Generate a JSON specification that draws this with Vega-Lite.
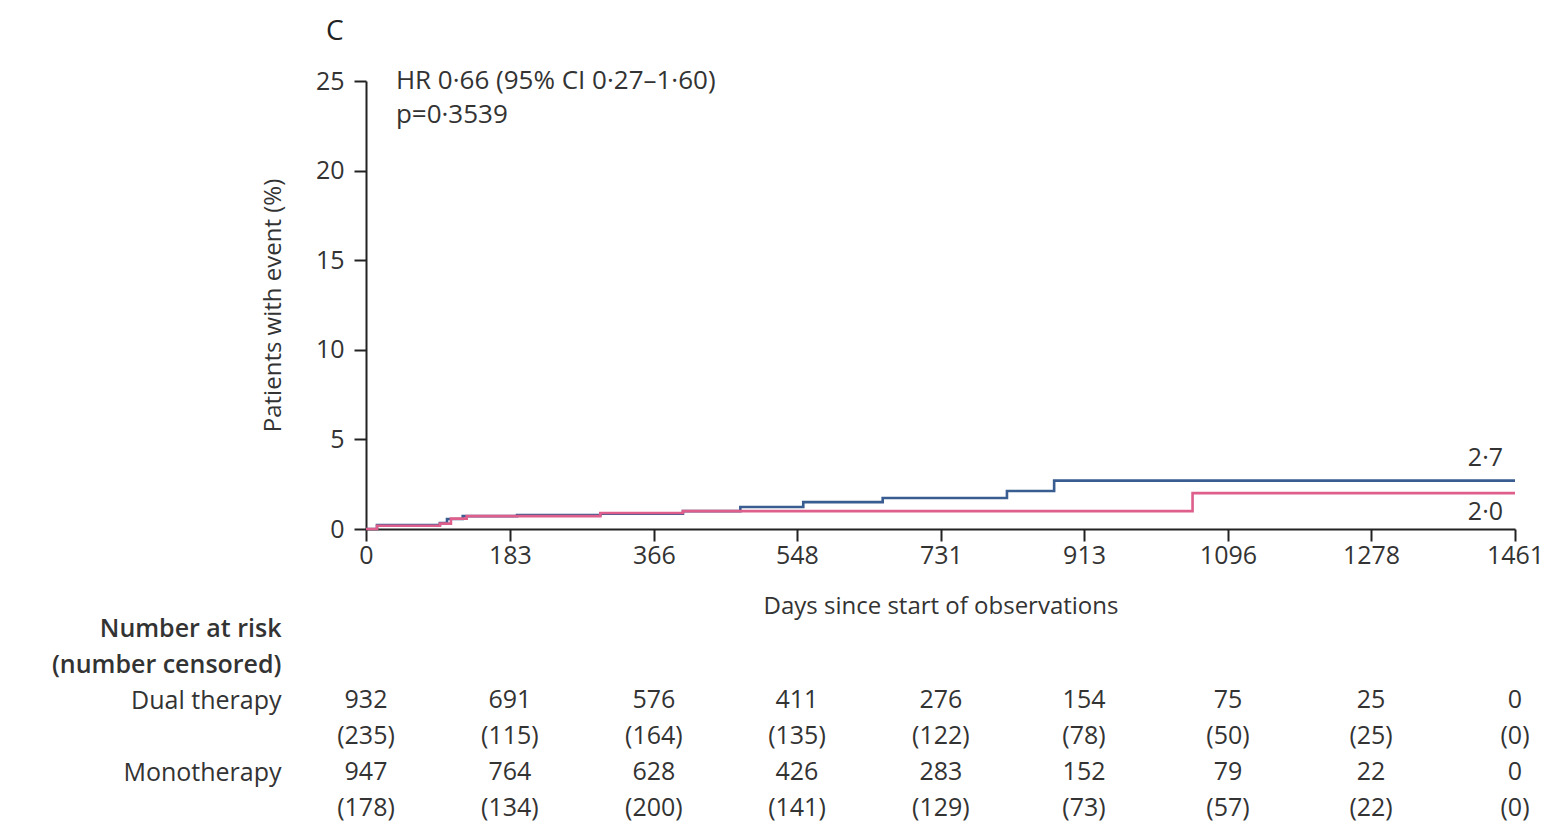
{
  "$schema": "https://vega.github.io/schema/vega-lite/v6.json",
  "width": 1149,
  "height": 448,
  "autosize": {"type": "none"},
  "padding": {"left": 366, "top": 81, "right": 38, "bottom": 293},
  "background": "white",
  "config": {
    "view": {"stroke": null},
    "font": "Open Sans",
    "text": {"font": "Open Sans", "color": "#333333"}
  },
  "title": {
    "text": "C",
    "anchor": "start",
    "frame": "group",
    "dx": -40,
    "offset": 22,
    "fontSize": 28,
    "fontWeight": "normal",
    "color": "#222222",
    "font": "Open Sans"
  },
  "layer": [
    {
      "layer": [
        {
          "data": {
            "values": [
              {"series": "Monotherapy", "day": 0, "pct": 0},
              {"series": "Monotherapy", "day": 14, "pct": 0.22},
              {"series": "Monotherapy", "day": 94, "pct": 0.33},
              {"series": "Monotherapy", "day": 103, "pct": 0.56},
              {"series": "Monotherapy", "day": 123, "pct": 0.72},
              {"series": "Monotherapy", "day": 192, "pct": 0.78},
              {"series": "Monotherapy", "day": 298, "pct": 0.86},
              {"series": "Monotherapy", "day": 403, "pct": 1.0},
              {"series": "Monotherapy", "day": 476, "pct": 1.23},
              {"series": "Monotherapy", "day": 556, "pct": 1.5},
              {"series": "Monotherapy", "day": 657, "pct": 1.73},
              {"series": "Monotherapy", "day": 815, "pct": 2.12},
              {"series": "Monotherapy", "day": 875, "pct": 2.7},
              {"series": "Monotherapy", "day": 1461, "pct": 2.7},
              {"series": "Dual therapy", "day": 0, "pct": 0},
              {"series": "Dual therapy", "day": 14, "pct": 0.18},
              {"series": "Dual therapy", "day": 94, "pct": 0.3},
              {"series": "Dual therapy", "day": 108, "pct": 0.58},
              {"series": "Dual therapy", "day": 128, "pct": 0.72},
              {"series": "Dual therapy", "day": 298, "pct": 0.89},
              {"series": "Dual therapy", "day": 403, "pct": 1.0},
              {"series": "Dual therapy", "day": 1051, "pct": 2.0},
              {"series": "Dual therapy", "day": 1461, "pct": 2.0}
            ]
          },
          "mark": {"type": "line", "interpolate": "step-after", "strokeWidth": 2.6},
          "encoding": {
            "x": {
              "field": "day",
              "type": "quantitative",
              "scale": {"domain": [0, 1461], "nice": false, "zero": false},
              "axis": {
                "values": [0, 183, 366, 548, 731, 913, 1096, 1278, 1461],
                "format": "d",
                "title": "Days since start of observations",
                "grid": false,
                "domainColor": "#222222",
                "domainWidth": 2,
                "tickColor": "#222222",
                "tickWidth": 2,
                "tickSize": 12,
                "labelFontSize": 25,
                "labelPadding": 2,
                "labelColor": "#333333",
                "labelFont": "Open Sans",
                "labelFlush": false,
                "labelOverlap": false,
                "titleFontSize": 24,
                "titleFontWeight": "normal",
                "titleColor": "#333333",
                "titleFont": "Open Sans",
                "titlePadding": 26
              }
            },
            "y": {
              "field": "pct",
              "type": "quantitative",
              "scale": {"domain": [0, 25], "nice": false},
              "axis": {
                "orient": "left",
                "values": [0, 5, 10, 15, 20, 25],
                "title": "Patients with event (%)",
                "grid": false,
                "domainColor": "#222222",
                "domainWidth": 2,
                "tickColor": "#222222",
                "tickWidth": 2,
                "tickSize": 12,
                "labelFontSize": 25,
                "labelPadding": 10,
                "labelColor": "#333333",
                "labelFont": "Open Sans",
                "labelFlush": false,
                "titleFontSize": 24,
                "titleFontWeight": "normal",
                "titleColor": "#333333",
                "titleFont": "Open Sans",
                "titlePadding": 30
              }
            },
            "color": {
              "field": "series",
              "type": "nominal",
              "scale": {"domain": ["Monotherapy", "Dual therapy"], "range": ["#3a5d91", "#de5f8b"]},
              "legend": null
            }
          }
        },
        {
          "data": {"values": [{"label": "HR 0·66 (95% CI 0·27–1·60)"}]},
          "mark": {"type": "text", "align": "left", "baseline": "middle", "fontSize": 26, "color": "#333333"},
          "encoding": {
            "x": {"datum": 38},
            "y": {"datum": 25},
            "text": {"field": "label"}
          }
        },
        {
          "data": {"values": [{"label": "p=0·3539"}]},
          "mark": {"type": "text", "align": "left", "baseline": "middle", "fontSize": 26, "color": "#333333"},
          "encoding": {
            "x": {"datum": 38},
            "y": {"datum": 23.1},
            "text": {"field": "label"}
          }
        },
        {
          "data": {"values": [{"label": "2·7"}]},
          "mark": {"type": "text", "align": "right", "baseline": "middle", "fontSize": 25, "dx": -12, "dy": -23, "color": "#333333"},
          "encoding": {
            "x": {"datum": 1461},
            "y": {"datum": 2.7},
            "text": {"field": "label"}
          }
        },
        {
          "data": {"values": [{"label": "2·0"}]},
          "mark": {"type": "text", "align": "right", "baseline": "middle", "fontSize": 25, "dx": -12, "dy": 19, "color": "#333333"},
          "encoding": {
            "x": {"datum": 1461},
            "y": {"datum": 2.0},
            "text": {"field": "label"}
          }
        }
      ]
    },
    {
      "data": {
        "values": [
          {"group": "Dual therapy", "day": 0, "atRisk": 932, "censored": 235},
          {"group": "Dual therapy", "day": 183, "atRisk": 691, "censored": 115},
          {"group": "Dual therapy", "day": 366, "atRisk": 576, "censored": 164},
          {"group": "Dual therapy", "day": 548, "atRisk": 411, "censored": 135},
          {"group": "Dual therapy", "day": 731, "atRisk": 276, "censored": 122},
          {"group": "Dual therapy", "day": 913, "atRisk": 154, "censored": 78},
          {"group": "Dual therapy", "day": 1096, "atRisk": 75, "censored": 50},
          {"group": "Dual therapy", "day": 1278, "atRisk": 25, "censored": 25},
          {"group": "Dual therapy", "day": 1461, "atRisk": 0, "censored": 0},
          {"group": "Monotherapy", "day": 0, "atRisk": 947, "censored": 178},
          {"group": "Monotherapy", "day": 183, "atRisk": 764, "censored": 134},
          {"group": "Monotherapy", "day": 366, "atRisk": 628, "censored": 200},
          {"group": "Monotherapy", "day": 548, "atRisk": 426, "censored": 141},
          {"group": "Monotherapy", "day": 731, "atRisk": 283, "censored": 129},
          {"group": "Monotherapy", "day": 913, "atRisk": 152, "censored": 73},
          {"group": "Monotherapy", "day": 1096, "atRisk": 79, "censored": 57},
          {"group": "Monotherapy", "day": 1278, "atRisk": 22, "censored": 22},
          {"group": "Monotherapy", "day": 1461, "atRisk": 0, "censored": 0}
        ]
      },
      "layer": [
        {
          "mark": {"type": "text", "align": "center", "baseline": "middle", "fontSize": 25, "color": "#333333"},
          "encoding": {
            "x": {"field": "day", "type": "quantitative"},
            "y": {
              "field": "group",
              "type": "nominal",
              "scale": {
                "type": "point",
                "domain": ["h1", "h2", "Dual therapy", "dc", "Monotherapy", "mc"],
                "range": [547, 727],
                "padding": 0
              },
              "axis": {
                "orient": "left",
                "title": null,
                "domain": false,
                "ticks": false,
                "grid": false,
                "labelPadding": 85,
                "labelFontSize": 25,
                "labelLimit": 400,
                "labelColor": "#333333",
                "labelFont": "Open Sans",
                "labelOverlap": false,
                "labelExpr": "datum.value == 'h1' ? 'Number at risk' : datum.value == 'h2' ? '(number censored)' : (datum.value == 'dc' || datum.value == 'mc') ? '' : datum.value",
                "labelFontWeight": {"condition": {"test": "datum.value == 'h1' || datum.value == 'h2'", "value": 600}, "value": "normal"}
              }
            },
            "text": {"field": "atRisk", "type": "quantitative"}
          }
        },
        {
          "mark": {"type": "text", "align": "center", "baseline": "middle", "fontSize": 25, "dy": 36, "color": "#333333", "text": {"expr": "'(' + datum.censored + ')'"}},
          "encoding": {
            "x": {"field": "day", "type": "quantitative"},
            "y": {"field": "group", "type": "nominal"}
          }
        }
      ]
    }
  ],
  "resolve": {"scale": {"y": "independent"}, "axis": {"y": "independent"}}
}
